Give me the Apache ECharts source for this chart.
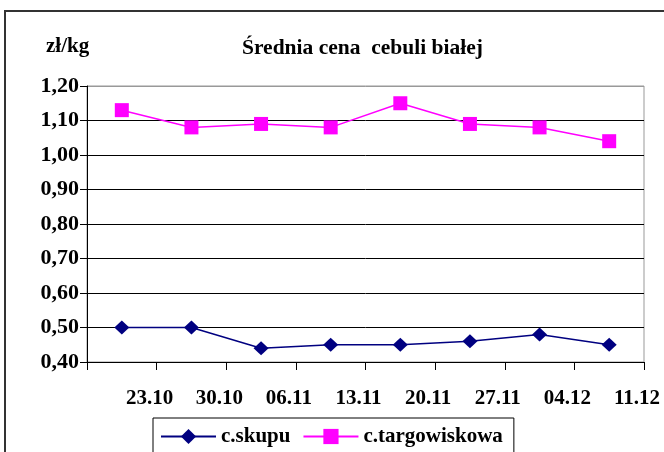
<!DOCTYPE html>
<html>
<head>
<meta charset="utf-8">
<script src="https://cdn.jsdelivr.net/npm/echarts@6/dist/echarts.min.js"></script>
<style>
html,body{margin:0;padding:0;background:#fff;}
#c{width:664px;height:452px;}
</style>
</head>
<body>
<div id="c"></div>
<script>
var categories = ['16.10','23.10','30.10','06.11','13.11','20.11','27.11','04.12'];
var tickLabels = ['', '23.10','30.10','06.11','13.11','20.11','27.11','04.12','11.12'];
var skupu = [0.50, 0.50, 0.44, 0.45, 0.45, 0.46, 0.48, 0.45];
var targowiskowa = [1.13, 1.08, 1.09, 1.08, 1.15, 1.09, 1.08, 1.04];

var FONT = '"Liberation Serif", "Times New Roman", serif';
var chart = echarts.init(document.getElementById('c'));
chart.setOption({
  animation: false,
  backgroundColor: '#fff',
  textStyle: {fontFamily: FONT},
  title: {
    text: 'Średnia cena  cebuli białej',
    left: 237, top: 32, padding: 5,
    textStyle: {fontFamily: FONT, fontWeight: 'bold', fontSize: 21.5, color: '#000'}
  },
  graphic: [
    {type: 'rect', shape: {x: 5, y: 11, width: 700, height: 500},
     style: {fill: 'none', stroke: '#333', lineWidth: 2}, z: 100},
    {type: 'text', left: 46, top: 36,
     style: {text: 'zł/kg', fill: '#000', font: 'bold 21px ' + FONT}}
  ],
  legend: {
    left: 153, top: 418,
    padding: [8, 11, 12, 7],
    borderColor: '#000', borderWidth: 1,
    itemWidth: 55, itemHeight: 19, itemGap: 12,
    textStyle: {fontFamily: FONT, fontWeight: 'bold', fontSize: 21, color: '#000'},
    data: ['c.skupu', 'c.targowiskowa']
  },
  grid: {left: 87, right: 20, top: 86, bottom: 90, show: true, borderColor: '#999', borderWidth: 1},
  xAxis: [
    {type: 'category', data: categories, boundaryGap: true,
     axisLine: {lineStyle: {color: '#000', width: 1}},
     axisTick: {show: true, length: 8, lineStyle: {color: '#000'}},
     axisLabel: {show: false}},
    {type: 'category', data: tickLabels, boundaryGap: false, position: 'bottom',
     axisLine: {show: false}, axisTick: {show: false},
     axisLabel: {show: true, interval: 0, margin: 26, padding: [0, 14, 0, 0],
       fontFamily: FONT, fontWeight: 'bold', fontSize: 21, color: '#000'}}
  ],
  yAxis: {
    type: 'value', min: 0.4, max: 1.2, interval: 0.1,
    axisLine: {show: true, lineStyle: {color: '#000'}},
    axisTick: {show: true, length: 7, lineStyle: {color: '#000'}},
    axisLabel: {margin: 8, fontFamily: FONT, fontWeight: 'bold', fontSize: 22, color: '#000',
      formatter: function (v) { return v.toFixed(2).replace('.', ','); }},
    splitLine: {show: true, lineStyle: {color: ['#000','#000','#000','#000','#000','#000','#000','#000','#999'], width: 1}}
  },
  series: [
    {name: 'c.skupu', type: 'line', data: skupu, xAxisIndex: 0,
     symbol: 'diamond', symbolSize: [15, 14],
     lineStyle: {color: '#000080', width: 1.5},
     itemStyle: {color: '#000080'}},
    {name: 'c.targowiskowa', type: 'line', data: targowiskowa, xAxisIndex: 0,
     symbol: 'rect', symbolSize: 14,
     lineStyle: {color: '#FF00FF', width: 1.5},
     itemStyle: {color: '#FF00FF'}}
  ]
});
</script>
</body>
</html>
